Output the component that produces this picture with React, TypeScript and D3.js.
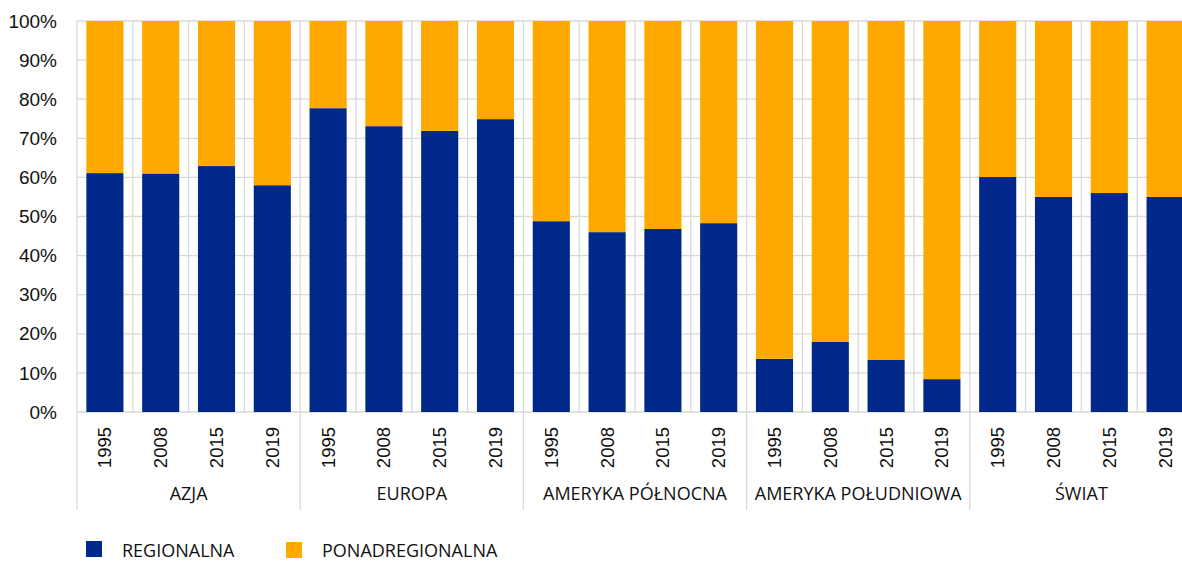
import React from "react";
import * as d3 from "d3";

// data
const groups = ["AZJA", "EUROPA", "AMERYKA PÓŁNOCNA", "AMERYKA POŁUDNIOWA", "ŚWIAT"];
const years = ["1995", "2008", "2015", "2019"];
const regionalna = [
  61.1, 61.0, 62.9, 58.0,
  77.7, 73.1, 71.9, 74.9,
  48.8, 46.0, 46.8, 48.3,
  13.6, 17.9, 13.3, 8.4,
  60.1, 55.0, 56.0, 55.0,
];
const ponadregionalna = [
  38.9, 39.0, 37.1, 42.0,
  22.3, 26.9, 28.1, 25.1,
  51.2, 54.0, 53.2, 51.7,
  86.4, 82.1, 86.7, 91.6,
  39.9, 45.0, 44.0, 45.0,
];
const yTicks = [0, 10, 20, 30, 40, 50, 60, 70, 80, 90, 100];

const BLUE = "#00288a";
const ORANGE = "#ffa800";
const GRID = "#d9d9d9";

const App = () => {
  const width = 1182;
  const height = 561;
  const left = 77;
  const top = 21;
  const bottom = 412;
  const step = 55.8;

  const items = groups.flatMap((g, gi) => years.map((y, yi) => ({ g, y, i: gi * years.length + yi })));

  const x = d3
    .scaleBand<number>()
    .domain(items.map(d => d.i))
    .range([left, left + step * items.length])
    .paddingInner(0.335)
    .paddingOuter(0.1675);

  const yScale = d3.scaleLinear().domain([0, 100]).range([bottom, top]);

  const stack = d3
    .stack<number>()
    .keys(["reg", "pon"])
    .value((i, key) => (key === "reg" ? regionalna[i] : ponadregionalna[i]));
  const series = stack(items.map(d => d.i));
  const colors = [BLUE, ORANGE];

  const groupW = step * years.length;

  return (
    <svg width={width} height={height} style={{ position: "absolute", left: 0, top: 0, background: "#fff" }}>
      {/* horizontal grid */}
      {yTicks.map(t => (
        <line key={"h" + t} x1={left} x2={width + 20} y1={yScale(t)} y2={yScale(t)} stroke={GRID} strokeWidth={1.3} />
      ))}
      {/* vertical grid between bars */}
      {d3.range(items.length + 1).map(i => (
        <line
          key={"v" + i}
          x1={left + i * step}
          x2={left + i * step}
          y1={top}
          y2={i % years.length === 0 ? 510 : bottom}
          stroke={GRID}
          strokeWidth={1.3}
        />
      ))}

      {/* bars */}
      {series.map((s, si) =>
        s.map((d, k) => (
          <rect
            key={si + "-" + k}
            x={x(items[k].i)}
            width={x.bandwidth()}
            y={yScale(d[1])}
            height={yScale(d[0]) - yScale(d[1])}
            fill={colors[si]}
          />
        ))
      )}

      {/* y tick labels */}
      {yTicks.map(t => (
        <text
          key={"t" + t}
          x={57}
          y={yScale(t)}
          dy="0.35em"
          textAnchor="end"
          fontFamily="Liberation Sans, Arial, sans-serif"
          fontSize={19}
          fill="#111"
        >
          {t}%
        </text>
      ))}

      {/* year labels */}
      {items.map(d => {
        const cx = (x(d.i) as number) + x.bandwidth() / 2;
        return (
          <text
            key={"y" + d.i}
            transform={`translate(${cx},${427}) rotate(-90)`}
            textAnchor="end"
            dy="0.35em"
            fontFamily="Liberation Sans, Arial, sans-serif"
            fontSize={18.5}
            fill="#111"
          >
            {d.y}
          </text>
        );
      })}

      {/* group labels */}
      {groups.map((g, gi) => (
        <text
          key={"g" + gi}
          x={left + gi * groupW + groupW / 2}
          y={500}
          textAnchor="middle"
          fontFamily="Open Sans, sans-serif"
          fontSize={18}
          fill="#111"
        >
          {g}
        </text>
      ))}

      {/* legend */}
      <rect x={86} y={541} width={16} height={16} fill={BLUE} />
      <text x={122} y={557} fontFamily="Open Sans, sans-serif" fontSize={18} fill="#111">
        REGIONALNA
      </text>
      <rect x={286} y={542} width={16} height={16} fill={ORANGE} />
      <text x={322} y={557} fontFamily="Open Sans, sans-serif" fontSize={18} fill="#111">
        PONADREGIONALNA
      </text>
    </svg>
  );
};

export default App;
